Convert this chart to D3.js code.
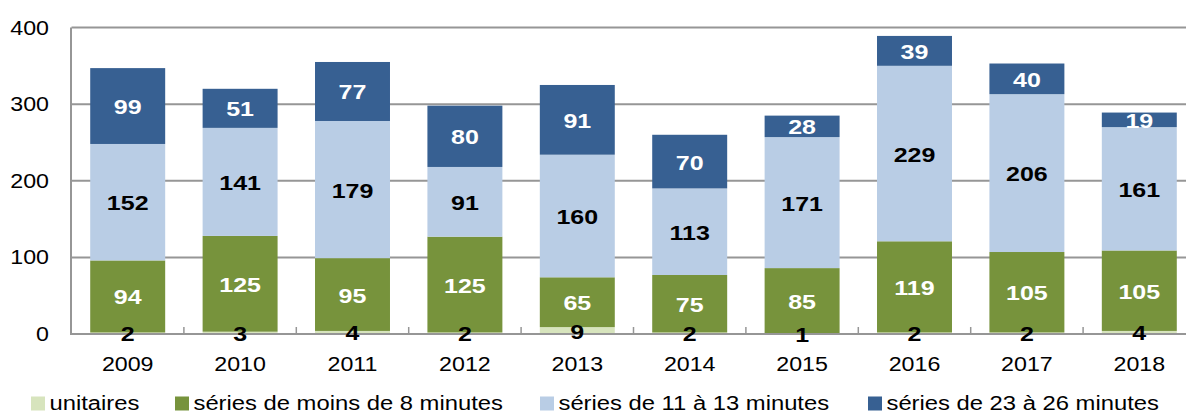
<!DOCTYPE html>
<html>
<head>
<meta charset="utf-8">
<script src="https://cdn.jsdelivr.net/npm/d3@7"></script>
<style>
  body { margin: 0; background: #fff; }
  text { font-family: "Liberation Sans", Arial, sans-serif; }
</style>
</head>
<body>
<div id="chart"></div>
<script>
// data
var years = ["2009", "2010", "2011", "2012", "2013", "2014", "2015", "2016", "2017", "2018"];
var unitaires = [2, 3, 4, 2, 9, 2, 1, 2, 2, 4];
var moins8 = [94, 125, 95, 125, 65, 75, 85, 119, 105, 105];
var de11a13 = [152, 141, 179, 91, 160, 113, 171, 229, 206, 161];
var de23a26 = [99, 51, 77, 80, 91, 70, 28, 39, 40, 19];
var seriesNames = ["unitaires", "séries de moins de 8 minutes", "séries de 11 à 13 minutes", "séries de 23 à 26 minutes"];
var yTicks = [0, 100, 200, 300, 400];

var colors = ["#d7e4bd", "#77933c", "#b9cde5", "#376092"];
var labelColors = ["#000", "#fff", "#000", "#fff"];

var svgWidth = 1186, svgHeight = 414;
var sx = 1.19; // the picture is a bit stretched sideways

var svg = d3.select("#chart").append("svg")
  .attr("width", svgWidth)
  .attr("height", svgHeight);

// table for the stack
var keys = ["u", "m8", "s11", "s23"];
var table = years.map(function(y, i) {
  return { year: y, u: unitaires[i], m8: moins8[i], s11: de11a13[i], s23: de23a26[i] };
});
var stacked = d3.stack().keys(keys)(table);

var x = d3.scaleBand()
  .domain(years)
  .range([71.5, 1195.5])
  .paddingInner(0.333)
  .paddingOuter(0.1665);

var y = d3.scaleLinear()
  .domain([0, 400])
  .range([334, 27.5]);

function stretched(sel, px, py) {
  return sel.attr("transform", "translate(" + px + "," + py + ") scale(" + sx + ",1)");
}

// gridlines
svg.append("g").selectAll("line")
  .data(yTicks.slice(1))
  .enter().append("line")
  .attr("x1", 71.5).attr("x2", 1195.5)
  .attr("y1", d => y(d)).attr("y2", d => y(d))
  .attr("stroke", "#969696")
  .attr("stroke-width", 2);

// y tick labels
svg.append("g").selectAll("text")
  .data(yTicks)
  .enter().append("text")
  .each(function(d) { stretched(d3.select(this), 49, y(d) + 7); })
  .attr("text-anchor", "end")
  .style("font-size", "19.5px")
  .text(d => d);

// bars
var layers = svg.append("g").selectAll("g")
  .data(stacked)
  .enter().append("g")
  .attr("fill", (d, i) => colors[i]);

layers.selectAll("rect")
  .data(d => d)
  .enter().append("rect")
  .attr("x", d => x(d.data.year))
  .attr("y", d => y(d[1]))
  .attr("width", x.bandwidth())
  .attr("height", d => y(d[0]) - y(d[1]));

// axes lines
svg.append("line")
  .attr("x1", 71).attr("x2", 71)
  .attr("y1", y(400)).attr("y2", y(0))
  .attr("stroke", "#969696").attr("stroke-width", 2);

svg.append("line")
  .attr("x1", 70).attr("x2", 1195.5)
  .attr("y1", y(0)).attr("y2", y(0))
  .attr("stroke", "#969696").attr("stroke-width", 2);

// x ticks between categories (inside)
svg.append("g").selectAll("line")
  .data(years.slice(1))
  .enter().append("line")
  .attr("x1", d => x(d) - x.step() * x.paddingInner() / 2)
  .attr("x2", d => x(d) - x.step() * x.paddingInner() / 2)
  .attr("y1", y(0) - 7).attr("y2", y(0))
  .attr("stroke", "#969696").attr("stroke-width", 1.5);

// x labels
svg.append("g").selectAll("text")
  .data(years)
  .enter().append("text")
  .each(function(d) { stretched(d3.select(this), x(d) + x.bandwidth() / 2, 371); })
  .attr("text-anchor", "middle")
  .style("font-size", "19.5px")
  .text(d => d);

// value labels, on top of the axis
var labelLayers = svg.append("g").selectAll("g")
  .data(stacked)
  .enter().append("g")
  .attr("fill", (d, i) => labelColors[i]);

labelLayers.selectAll("text")
  .data(d => d)
  .enter().append("text")
  .each(function(d) {
    stretched(d3.select(this), x(d.data.year) + x.bandwidth() / 2, y((d[0] + d[1]) / 2) + 8);
  })
  .attr("text-anchor", "middle")
  .style("font-size", "21px")
  .style("font-weight", "bold")
  .text(d => d[1] - d[0]);

// legend
var legendX = [31, 175, 540, 868];
var legend = svg.append("g").selectAll("g")
  .data(seriesNames)
  .enter().append("g")
  .attr("transform", (d, i) => "translate(" + legendX[i] + ",0)");

legend.append("rect")
  .attr("x", 0).attr("y", 396.5)
  .attr("width", 14).attr("height", 14)
  .attr("fill", (d, i) => colors[i]);

legend.append("text")
  .each(function() { stretched(d3.select(this), 18.5, 409.5); })
  .style("font-size", "20px")
  .text(d => d);
</script>
</body>
</html>
